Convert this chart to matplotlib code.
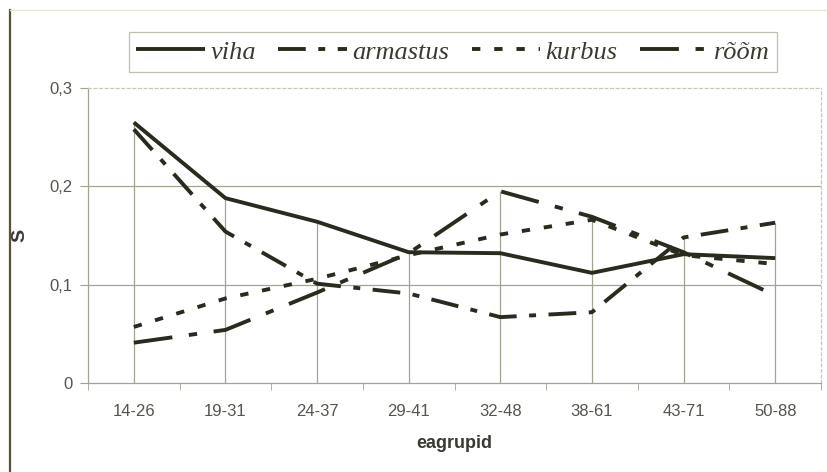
import matplotlib
matplotlib.use("Agg")
import matplotlib.pyplot as plt
from matplotlib.lines import Line2D
import numpy as np

# data
groups = ["14-26", "19-31", "24-37", "29-41", "32-48", "38-61", "43-71", "50-88"]
viha = [0.265, 0.188, 0.164, 0.133, 0.132, 0.112, 0.131, 0.127]
armastus = [0.258, 0.154, 0.101, 0.091, 0.067, 0.072, 0.148, 0.163]
kurbus = [0.057, 0.086, 0.106, 0.130, 0.151, 0.166, 0.130, 0.121]
room = [0.041, 0.054, 0.092, 0.132, 0.195, 0.169, 0.133, 0.089]
y_ticks = [0, 0.1, 0.2, 0.3]
y_labels = ["0", "0,1", "0,2", "0,3"]

plt.rcParams['lines.scale_dashes'] = False
ink = '#2a2a1e'
grid = '#a3a391'
txt = '#55554d'

fig = plt.figure(figsize=(8.28, 4.72), dpi=100)
ax = fig.add_axes([88/828, 89/472, 733/828, 295/472])
x = np.arange(len(groups))

# drop lines from the top series down to the axis
tops = np.max([viha, armastus, kurbus, room], axis=0)
ax.vlines(x, 0, tops, color=grid, lw=0.9, zorder=1)
for yv in [0.1, 0.2]:
    ax.axhline(yv, color=grid, lw=0.9, zorder=1)

lw = 2.8
ax.plot(x, viha, color=ink, lw=lw, solid_capstyle='butt', label='viha', zorder=3)
ax.plot(x, armastus, color=ink, lw=lw, dashes=(20, 9, 5, 9), label='armastus', zorder=3)
ax.plot(x, kurbus, color=ink, lw=lw, dashes=(6, 10), label='kurbus', zorder=3)
ax.plot(x, room, color=ink, lw=lw, dashes=(28, 12, 6, 12), label='rõõm', zorder=3)

ax.set_xlim(-0.5, len(groups) - 0.5)
ax.set_ylim(0, 0.3)
ax.set_yticks(y_ticks)
ax.set_yticklabels(y_labels)
ax.set_xticks(x)
ax.set_xticklabels(groups)
ax.set_xticks(np.arange(-0.5, len(groups)), minor=True)
ax.tick_params(axis='x', which='major', length=0, pad=15, labelsize=12, labelcolor=txt)
ax.tick_params(axis='x', which='minor', length=5, color=grid, direction='out')
ax.tick_params(axis='y', length=6, color=grid, pad=5, labelsize=12, labelcolor=txt)
for tl in ax.get_xticklabels() + ax.get_yticklabels():
    tl.set_family('Liberation Sans')

for s in ['left', 'bottom']:
    ax.spines[s].set_color(grid)
    ax.spines[s].set_linewidth(0.9)
for s in ['top', 'right']:
    ax.spines[s].set_color('#c8c8b8')
    ax.spines[s].set_linewidth(0.9)
    ax.spines[s].set_linestyle((0, (2, 2)))

ax.set_xlabel('eagrupid', fontsize=13, fontweight='bold', color='#3a3a34',
              family='Liberation Sans', labelpad=12)
ax.set_ylabel('S', fontsize=14, fontweight='bold', color='#3a3a34',
              family='Liberation Sans')
ax.yaxis.set_label_coords(-(88 - 28) / 733, 0.5)

leg = fig.legend(loc='center', bbox_to_anchor=(453/828, 1 - 52/472), ncol=4,
                 prop={'family': 'Liberation Serif', 'style': 'italic', 'size': 19},
                 handlelength=2.6, handletextpad=0.2, columnspacing=0.85,
                 borderpad=0.3, fancybox=False, frameon=True)
leg.get_frame().set_edgecolor('#b0b0a0')
leg.get_frame().set_linewidth(0.9)
for t in leg.get_texts():
    t.set_color('#3a3a30')

# outer chart border
fig.add_artist(Line2D([10/828, 10/828], [0, 1 - 10/472], color='#5a5038', lw=1.6))
fig.add_artist(Line2D([10/828, 1], [1 - 10/472, 1 - 10/472], color='#e6e6d6', lw=1.0))

fig.savefig('out.png', dpi=100)
